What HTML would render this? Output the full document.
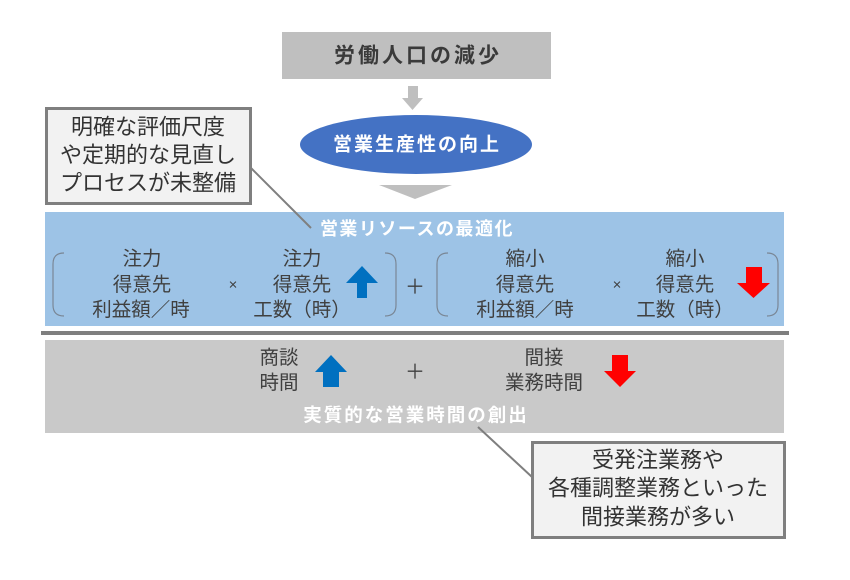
<!DOCTYPE html>
<html>
<head>
<meta charset="utf-8">
<style>
html,body{margin:0;padding:0;background:#fff;}
svg{display:block;}
text{font-family:"Liberation Sans","Noto Sans CJK JP",sans-serif;}
.cjk{font-family:"Noto Sans CJK JP",sans-serif;}
</style>
</head>
<body>
<svg width="850" height="580" viewBox="0 0 850 580" xmlns="http://www.w3.org/2000/svg">
  <rect x="0" y="0" width="850" height="580" fill="#ffffff"/>

  <!-- top box -->
  <rect x="282" y="32" width="269" height="47" fill="#bfbfbf"/>
  <text x="418" y="56" text-anchor="middle" dominant-baseline="central" font-size="21" font-weight="bold" fill="#3a3a3a" letter-spacing="3">労働人口の減少</text>

  <!-- small down arrow -->
  <polygon points="408,86 418,86 418,98 423,98 412.5,110 402,98 408,98" fill="#bfbfbf"/>

  <!-- ellipse -->
  <ellipse cx="416" cy="144.5" rx="116" ry="29.5" fill="#4472c4"/>
  <text x="417" y="145" text-anchor="middle" dominant-baseline="central" font-size="19" font-weight="bold" fill="#ffffff" letter-spacing="2">営業生産性の向上</text>

  <!-- chevron -->
  <polygon points="379,185 452,185 415,199" fill="#bfbfbf"/>

  <!-- blue box -->
  <rect x="45" y="212" width="739" height="114" fill="#9dc3e6"/>
  <text x="417" y="229" text-anchor="middle" dominant-baseline="central" font-size="18" font-weight="bold" fill="#ffffff" letter-spacing="1.5">営業リソースの最適化</text>

  <!-- brackets -->
  <g fill="none" stroke="#7a8796" stroke-width="1.2">
    <path d="M64 253 Q53 253 53 264 L53 305 Q53 316 64 316"/>
    <path d="M385 253 Q396 253 396 264 L396 305 Q396 316 385 316"/>
    <path d="M448 253 Q437 253 437 264 L437 305 Q437 316 448 316"/>
    <path d="M767 253 Q778 253 778 264 L778 305 Q778 316 767 316"/>
  </g>

  <g font-size="19.5" fill="#404040" text-anchor="middle" dominant-baseline="central">
    <text x="142" y="259">注力</text>
    <text x="142" y="285">得意先</text>
    <text x="141" y="310">利益額／時</text>
    <text x="302" y="259">注力</text>
    <text x="302" y="285">得意先</text>
    <text x="302" y="310">工数（時）</text>
    <text x="525" y="259">縮小</text>
    <text x="525" y="285">得意先</text>
    <text x="525" y="310">利益額／時</text>
    <text x="685" y="259">縮小</text>
    <text x="685" y="285">得意先</text>
    <text x="685" y="310">工数（時）</text>
  </g>
  <g font-size="15" fill="#404040" text-anchor="middle" dominant-baseline="central">
    <text x="233" y="285">×</text>
    <text x="617" y="285">×</text>
  </g>
  <text class="cjk" x="415" y="285" text-anchor="middle" dominant-baseline="central" font-size="20" fill="#404040">＋</text>

  <!-- arrows in blue box -->
  <polygon points="362,266 378,283 367,283 367,298 357,298 357,283 346,283" fill="#0070c0"/>
  <polygon points="746,267 762,267 762,283 770,283 753.5,298 737,283 746,283" fill="#ff0000"/>

  <!-- separator -->
  <rect x="41" y="331" width="748" height="4" fill="#7f7f7f"/>

  <!-- gray box -->
  <rect x="45" y="340" width="739" height="93" fill="#c9c9c9"/>
  <g font-size="19.5" fill="#404040" text-anchor="middle" dominant-baseline="central">
    <text x="279" y="358">商談</text>
    <text x="279" y="383">時間</text>
    <text x="544" y="358">間接</text>
    <text x="544" y="383">業務時間</text>
  </g>
  <text class="cjk" x="415" y="370" text-anchor="middle" dominant-baseline="central" font-size="20" fill="#404040">＋</text>
  <polygon points="331,355 347,372 339,372 339,387 323,387 323,372 315,372" fill="#0070c0"/>
  <polygon points="612,355 628,355 628,371 636,371 620,387 604,371 612,371" fill="#ff0000"/>
  <text x="416" y="415" text-anchor="middle" dominant-baseline="central" font-size="18.5" font-weight="bold" fill="#ffffff" letter-spacing="2">実質的な営業時間の創出</text>

  <!-- callout 1 -->
  <line x1="251" y1="168" x2="311" y2="228" stroke="#7f7f7f" stroke-width="2"/>
  <rect x="46.5" y="108.5" width="204" height="95" fill="#f2f2f2" stroke="#7f7f7f" stroke-width="3"/>
  <g font-size="22" fill="#333333" text-anchor="middle" dominant-baseline="central">
    <text x="148" y="127">明確な評価尺度</text>
    <text x="148" y="155">や定期的な見直し</text>
    <text x="148" y="183">プロセスが未整備</text>
  </g>

  <!-- callout 2 -->
  <line x1="478" y1="427" x2="532" y2="477" stroke="#7f7f7f" stroke-width="2"/>
  <rect x="532.5" y="442.5" width="252" height="95" fill="#f2f2f2" stroke="#7f7f7f" stroke-width="3"/>
  <g font-size="22" fill="#333333" text-anchor="middle" dominant-baseline="central">
    <text x="658" y="460">受発注業務や</text>
    <text x="658" y="488">各種調整業務といった</text>
    <text x="658" y="517">間接業務が多い</text>
  </g>
</svg>
</body>
</html>
